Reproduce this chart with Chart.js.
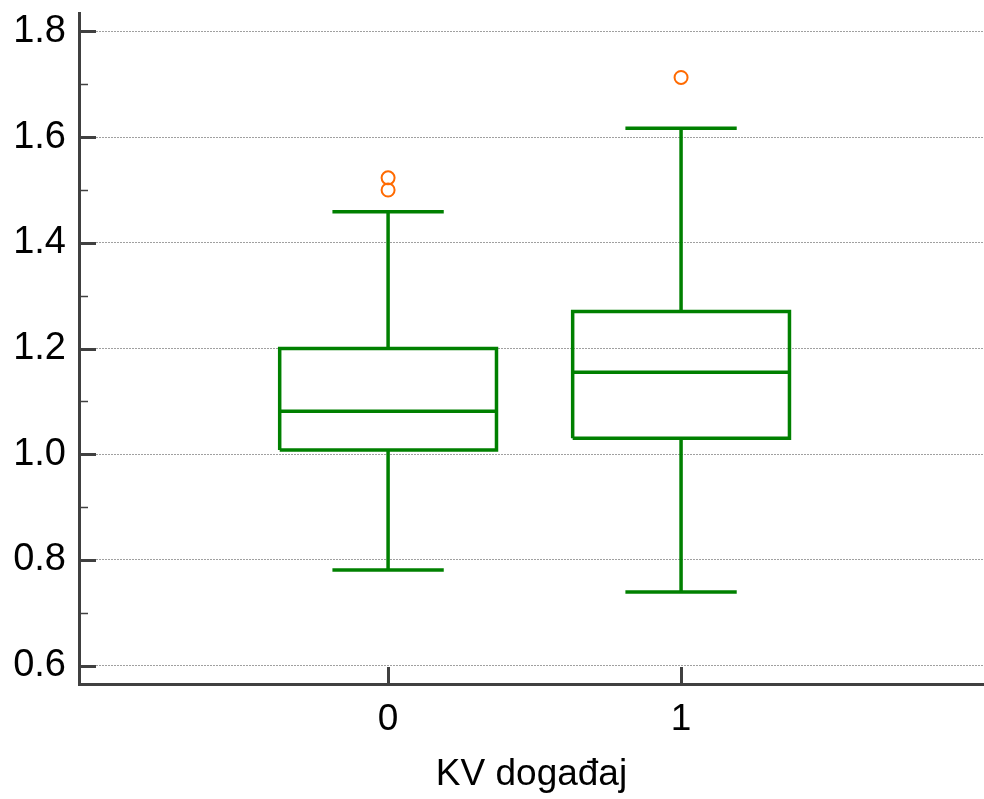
<!DOCTYPE html>
<html>
<head>
<meta charset="utf-8">
<script src="https://cdn.jsdelivr.net/npm/chart.js@4.4.0/dist/chart.umd.min.js"></script>
<style>
  html, body { margin: 0; padding: 0; background: #fff; }
  #wrap { width: 984px; height: 799px; }
</style>
</head>
<body>
<div id="wrap"><canvas id="c" width="984" height="799"></canvas></div>
<script>
// categories on the x axis (placed at 0, 1)
const categories = ['0', '1'];
const catPos = [0, 1];

// box plot statistics per category
const whiskerLow  = [0.781, 0.739];
const q1          = [1.008, 1.030];
const median      = [1.081, 1.155];
const q3          = [1.200, 1.270];
const whiskerHigh = [1.459, 1.617];

// outside values
const outlierX = [0, 0, 1];
const outlierY = [1.500, 1.523, 1.713];

// axis ticks
const yTicks = [0.6, 0.8, 1.0, 1.2, 1.4, 1.6, 1.8];
const yMinorTicks = [0.7, 0.9, 1.1, 1.3, 1.5, 1.7];

const GREEN = '#008000';
const ORANGE = '#ff6a00';
const AXIS = '#404040';
const BOX_HALF = 0.37;
const CAP_HALF = 0.19;

function seg(points) {
  return {
    type: 'scatter',
    data: points,
    showLine: true,
    borderColor: GREEN,
    borderWidth: 3.5,
    borderJoinStyle: 'miter',
    pointRadius: 0,
    pointHoverRadius: 0,
    tension: 0
  };
}

const datasets = [];
catPos.forEach(function (c, i) {
  // box
  datasets.push(seg([
    {x: c - BOX_HALF, y: q1[i]}, {x: c + BOX_HALF, y: q1[i]},
    {x: c + BOX_HALF, y: q3[i]}, {x: c - BOX_HALF, y: q3[i]},
    {x: c - BOX_HALF, y: q1[i]}
  ]));
  // median
  datasets.push(seg([{x: c - BOX_HALF, y: median[i]}, {x: c + BOX_HALF, y: median[i]}]));
  // whiskers
  datasets.push(seg([{x: c, y: q3[i]}, {x: c, y: whiskerHigh[i]}]));
  datasets.push(seg([{x: c - CAP_HALF, y: whiskerHigh[i]}, {x: c + CAP_HALF, y: whiskerHigh[i]}]));
  datasets.push(seg([{x: c, y: q1[i]}, {x: c, y: whiskerLow[i]}]));
  datasets.push(seg([{x: c - CAP_HALF, y: whiskerLow[i]}, {x: c + CAP_HALF, y: whiskerLow[i]}]));
});

datasets.push({
  type: 'scatter',
  data: outlierX.map(function (x, i) { return {x: x, y: outlierY[i]}; }),
  pointStyle: 'circle',
  pointRadius: 6.5,
  pointBorderWidth: 2,
  pointBorderColor: ORANGE,
  pointBackgroundColor: 'rgba(0,0,0,0)'
});

// inward tick marks like the original plot
const axisTicks = {
  id: 'axisTicks',
  afterDraw: function (chart) {
    var ctx = chart.ctx, area = chart.chartArea;
    var x = chart.scales.x, y = chart.scales.y;
    function line(x1, y1, x2, y2, w) {
      ctx.lineWidth = w;
      ctx.beginPath();
      ctx.moveTo(x1, y1);
      ctx.lineTo(x2, y2);
      ctx.stroke();
    }
    ctx.save();
    ctx.strokeStyle = AXIS;
    yTicks.forEach(function (v) {
      var py = Math.round(y.getPixelForValue(v)) + 0.5;
      line(area.left, py, area.left + 17, py, 3);
    });
    yMinorTicks.forEach(function (v) {
      var py = Math.round(y.getPixelForValue(v)) + 0.5;
      line(area.left, py, area.left + 9, py, 1.5);
    });
    catPos.forEach(function (v) {
      var px = Math.round(x.getPixelForValue(v)) + 0.5;
      line(px, area.bottom, px, area.bottom - 17, 3);
    });
    ctx.restore();
  }
};

Chart.defaults.font.family = "'Liberation Sans', Arial, sans-serif";
Chart.defaults.font.size = 37;
Chart.defaults.color = '#000';

new Chart(document.getElementById('c'), {
  type: 'scatter',
  data: { datasets: datasets },
  options: {
    responsive: false,
    animation: false,
    devicePixelRatio: 1,
    layout: { autoPadding: false, padding: { top: 13, right: 0, left: 0, bottom: 0 } },
    plugins: {
      legend: { display: false },
      tooltip: { enabled: false }
    },
    scales: {
      x: {
        type: 'linear',
        min: -1.055,
        max: 2.034,
        grid: { display: false, drawTicks: false },
        border: { display: true, color: AXIS, width: 3 },
        afterBuildTicks: function (scale) {
          scale.ticks = catPos.map(function (v) { return {value: v}; });
        },
        afterFit: function (scale) {
          scale.height = 115;
          scale.paddingLeft = 0;
          scale.paddingRight = 0;
        },
        ticks: {
          padding: 14,
          maxRotation: 0,
          callback: function (v) { return categories[catPos.indexOf(v)]; }
        },
        title: {
          display: true,
          text: 'KV događaj',
          color: '#000',
          font: { size: 37 },
          padding: { top: 0, bottom: 2 }
        }
      },
      y: {
        type: 'linear',
        min: 0.565,
        max: 1.835,
        grid: { color: '#a0a0a0', lineWidth: 1, drawTicks: false },
        border: { display: true, color: AXIS, width: 3, dash: [2, 1] },
        afterBuildTicks: function (scale) {
          scale.ticks = yTicks.map(function (v) { return {value: v}; });
        },
        afterFit: function (scale) {
          scale.width = 79;
          scale.paddingTop = 0;
          scale.paddingBottom = 0;
        },
        ticks: {
          padding: 13,
          font: { size: 38 },
          callback: function (v) { return v.toFixed(1); }
        }
      }
    }
  },
  plugins: [axisTicks]
});
</script>
</body>
</html>
